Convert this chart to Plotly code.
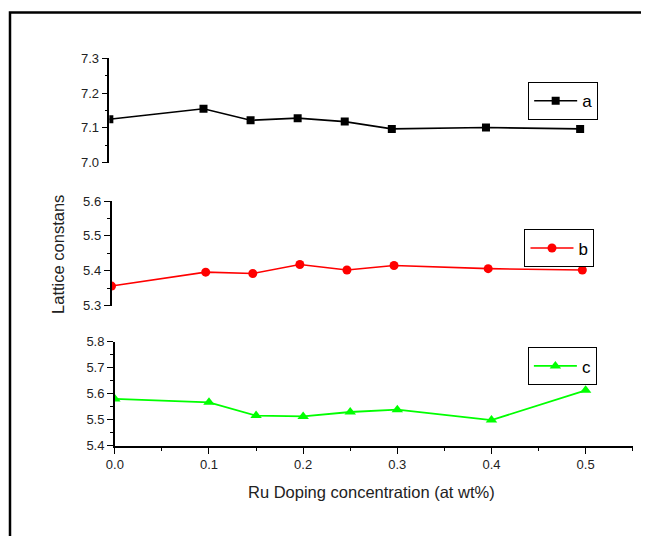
import plotly.graph_objects as go

# Page keeps the default 8px body margin; positions are taken from the
# reference in pixels and mapped onto the figure's paper grid.
W, H = 641, 536
GW, GH = 633, 520
OFF = 8

doping = [0.0, 0.1, 0.15, 0.2, 0.25, 0.3, 0.4, 0.5]
lat_a = [7.125, 7.155, 7.122, 7.128, 7.118, 7.097, 7.101, 7.097]
lat_b = [5.356, 5.396, 5.392, 5.418, 5.402, 5.415, 5.406, 5.402]
lat_c = [5.580, 5.567, 5.516, 5.513, 5.530, 5.539, 5.499, 5.613]

x_ticks = [0.0, 0.1, 0.2, 0.3, 0.4, 0.5]
x_ticklabels = ["0.0", "0.1", "0.2", "0.3", "0.4", "0.5"]

FONT = "Liberation Sans, Arial, sans-serif"


def px_x(p):
    return (p - OFF) / GW


def px_y(p):
    return 1 - (p - OFF) / GH


fig = go.Figure()

fig.add_trace(go.Scatter(
    x=doping, y=lat_a, name="a", mode="lines+markers", showlegend=True,
    line=dict(color="black", width=1.6),
    marker=dict(symbol="square", size=8, color="black"),
    xaxis="x", yaxis="y", legend="legend"))
fig.add_trace(go.Scatter(
    x=doping, y=lat_b, name="b", mode="lines+markers", showlegend=True,
    line=dict(color="#ff0000", width=1.6),
    marker=dict(symbol="circle", size=9, color="#ff0000"),
    xaxis="x2", yaxis="y2", legend="legend2"))
fig.add_trace(go.Scatter(
    x=doping, y=lat_c, name="c", mode="lines+markers", showlegend=True,
    line=dict(color="#00ff00", width=1.8),
    marker=dict(symbol="triangle-up", size=10, color="#00ff00"),
    xaxis="x3", yaxis="y3", legend="legend3"))

yax_common = dict(
    showline=True, linecolor="black", linewidth=1.5,
    ticks="outside", ticklen=6, tickwidth=1.3, tickcolor="black",
    dtick=0.1, tickformat=".1f", showgrid=False, zeroline=False,
    tickfont=dict(family=FONT, size=13, color="#222"),
    minor=dict(dtick=0.05, ticks="outside", ticklen=3, tickwidth=1.2,
               tickcolor="black", showgrid=False),
)

leg_common = dict(xanchor="left", yanchor="top",
                  bordercolor="black", borderwidth=1, bgcolor="white",
                  itemwidth=43,
                  font=dict(family=FONT, size=17, color="black"))

fig.update_layout(
    width=W, height=H,
    showlegend=True,
    margin=dict(l=0, r=0, t=0, b=0),
    paper_bgcolor="white", plot_bgcolor="white",
    font=dict(family=FONT, color="black"),
    xaxis=dict(domain=[px_x(108.5), px_x(627.2)], range=[0, 0.55],
               anchor="y", visible=False),
    yaxis=dict(domain=[px_y(163.3), px_y(59.3)], range=[7.0, 7.3],
               anchor="x", **yax_common),
    xaxis2=dict(domain=[px_x(110.7), px_x(629.4)], range=[0, 0.55],
                anchor="y2", visible=False),
    yaxis2=dict(domain=[px_y(306), px_y(201.7)], range=[5.3, 5.6],
                anchor="x2", **yax_common),
    xaxis3=dict(domain=[px_x(114), px_x(632.7)], range=[0, 0.55],
                anchor="y3", showline=True, linecolor="black", linewidth=1.5,
                ticks="outside", ticklen=6, tickwidth=1.3, tickcolor="black",
                tickvals=x_ticks, ticktext=x_ticklabels,
                showgrid=False, zeroline=False,
                tickfont=dict(family=FONT, size=13, color="#222"),
                minor=dict(dtick=0.05, ticks="outside", ticklen=3,
                           tickwidth=1.2, tickcolor="black", showgrid=False)),
    yaxis3=dict(domain=[px_y(446), px_y(342)], range=[5.4, 5.8],
                anchor="x3", **yax_common),
    legend=dict(x=px_x(528), y=px_y(83), **leg_common),
    legend2=dict(x=px_x(524.3), y=px_y(230), **leg_common),
    legend3=dict(x=px_x(527.7), y=px_y(347.7), **leg_common),
    shapes=[dict(type="rect", xref="paper", yref="paper",
                 x0=px_x(9), x1=1.2, y0=-0.05, y1=px_y(13.5),
                 line=dict(color="black", width=2.5), fillcolor="rgba(0,0,0,0)")],
    annotations=[
        dict(text="Lattice constans", xref="paper", yref="paper",
             x=px_x(57.5), y=px_y(255), textangle=-90, showarrow=False,
             xanchor="center", yanchor="middle",
             font=dict(family=FONT, size=16.5, color="#222")),
        dict(text="Ru Doping concentration (at wt%)", xref="paper", yref="paper",
             x=px_x(371), y=px_y(492), showarrow=False,
             xanchor="center", yanchor="middle",
             font=dict(family=FONT, size=16.5, color="#222")),
    ],
)

fig.write_html("out.html")
